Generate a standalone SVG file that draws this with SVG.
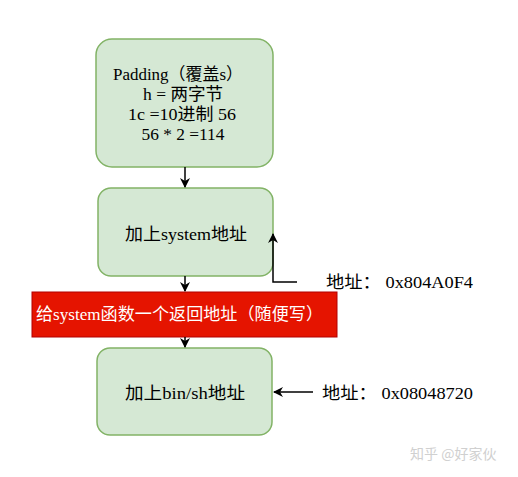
<svg xmlns="http://www.w3.org/2000/svg" width="518" height="477" viewBox="0 0 518 477">
<style>
.box{fill:#d5e8d4;stroke:#82b366;stroke-width:1.5}
.t{font-family:"Liberation Serif","Noto Sans CJK SC",serif;font-size:17px;fill:#000}
.c{text-anchor:middle}
.ln{stroke:#000;stroke-width:1.5;fill:none}
</style>
<defs>
<marker id="ah" markerWidth="10" markerHeight="10" refX="9" refY="5" orient="auto" markerUnits="userSpaceOnUse">
<path d="M0,0 L10,5 L0,10 L3,5 Z" fill="#000"/>
</marker>
</defs>
<rect width="518" height="477" fill="#fff"/>
<g id="node1">
<rect class="box" x="96" y="39" width="177" height="128" rx="16"/>
<text class="t c" x="178" y="80" textLength="130" lengthAdjust="spacingAndGlyphs">Padding（覆盖s）</text>
<text class="t c" x="183" y="100" textLength="80" lengthAdjust="spacingAndGlyphs">h = 两字节</text>
<text class="t c" x="182" y="120" textLength="108" lengthAdjust="spacingAndGlyphs">1c =10进制 56</text>
<text class="t c" x="183" y="140" textLength="83" lengthAdjust="spacingAndGlyphs">56 * 2 =114</text>
</g>
<g id="node2">
<rect class="box" x="98" y="188" width="175" height="88" rx="13"/>
<text class="t c" x="186" y="240" textLength="122" lengthAdjust="spacingAndGlyphs">加上system地址</text>
</g>
<g id="node3">
<rect x="32" y="292" width="305" height="45" fill="#e51400" stroke="#b20000" stroke-width="1"/>
<text class="t" x="36" y="320" style="fill:#fff" textLength="287" lengthAdjust="spacingAndGlyphs">给system函数一个返回地址（随便写）</text>
</g>
<g id="node4">
<rect class="box" x="97" y="348" width="175" height="87" rx="13"/>
<text class="t c" x="185" y="399" textLength="120" lengthAdjust="spacingAndGlyphs">加上bin/sh地址</text>
</g>
<g id="label1">
<text class="t" x="326" y="288" textLength="147" lengthAdjust="spacingAndGlyphs">地址：  0x804A0F4</text>
</g>
<g id="label2">
<text class="t" x="322" y="399" textLength="151" lengthAdjust="spacingAndGlyphs">地址：  0x08048720</text>
</g>
<g id="connectors">
<line class="ln" x1="185" y1="167" x2="185" y2="187" marker-end="url(#ah)"/>
<line class="ln" x1="185" y1="276" x2="185" y2="291" marker-end="url(#ah)"/>
<line class="ln" x1="185" y1="337" x2="185" y2="347" marker-end="url(#ah)"/>
<polyline class="ln" points="297,282 273,282 273,234" marker-end="url(#ah)"/>
<line class="ln" x1="313" y1="392" x2="274" y2="392" marker-end="url(#ah)"/>
</g>
<text x="410" y="459" font-family="'Noto Sans CJK SC','Noto Sans',sans-serif" font-size="14" fill="#d0d0d0">知乎 @好家伙</text>
</svg>
